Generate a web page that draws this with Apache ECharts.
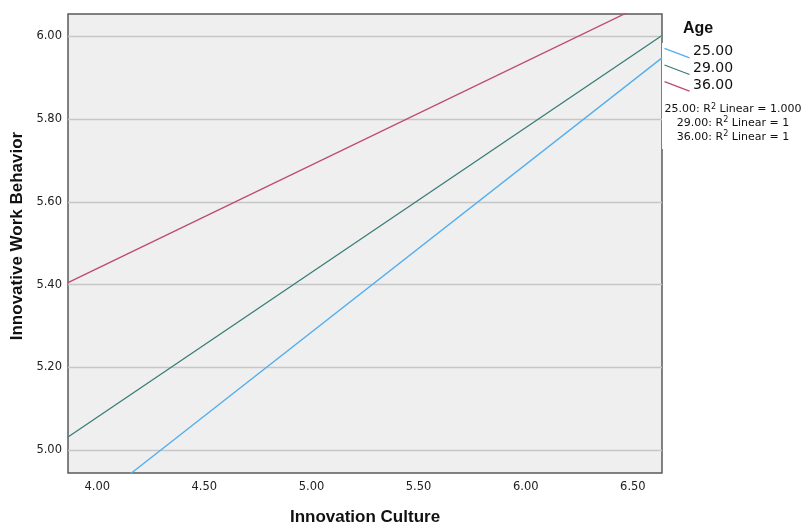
<!DOCTYPE html>
<html>
<head>
<meta charset="utf-8">
<script src="https://cdn.jsdelivr.net/npm/echarts@6/dist/echarts.min.js"></script>
<style>
html,body{margin:0;padding:0;background:#fff;}
#c{width:804px;height:523px;}
</style>
</head>
<body>
<div id="c"></div>
<script>
// Data (fit lines, estimated at the plot edges)
const xEnds = [3.8636, 6.636];
const age25 = [4.825, 5.948];
const age29 = [5.032, 6.002];
const age36 = [5.405, 6.098];
const ages = ['25.00', '29.00', '36.00'];
const r2Values = ['1.000', '1', '1'];
const xTicks = [4.0, 4.5, 5.0, 5.5, 6.0, 6.5];
const yTicks = [5.0, 5.2, 5.4, 5.6, 5.8, 6.0];
const colors = ['#52aeee', '#3a7d75', '#bd4a70'];

const seriesVals = [age25, age29, age36];

const chart = echarts.init(document.getElementById('c'), null, {renderer: 'canvas'});

const legendGraphics = [
  {type: 'rect', left: 662, top: 43, shape: {width: 142, height: 106}, style: {fill: '#fff'}, z: 100},
  {type: 'text', left: 683, top: 21, style: {text: 'Age', font: 'bold 16px "Liberation Sans", Arial, sans-serif', fill: '#111'}, z: 101},
  {type: 'text', x: 17, y: 236, rotation: Math.PI / 2, z: 101,
   style: {text: 'Innovative Work Behavior', align: 'center', verticalAlign: 'middle', font: 'bold 17px "Liberation Sans", Arial, sans-serif', fill: '#111'}}
];
ages.forEach((a, i) => {
  const y0 = 48.3 + i * 16.7;
  legendGraphics.push({type: 'line', shape: {x1: 664.5, y1: y0, x2: 689.5, y2: y0 + 9.5}, style: {stroke: colors[i], lineWidth: 1.3}, z: 101});
  legendGraphics.push({type: 'text', left: 693, top: y0 - 3.5, style: {text: a, font: '14px "DejaVu Sans", sans-serif', fill: '#111'}, z: 101});
});
r2Values.forEach((r, i) => {
  legendGraphics.push({
    type: 'text', x: 733, y: 109.5 + i * 13.7, z: 101,
    style: {
      text: '{a|' + ages[i] + ': R}{s|2}{a| Linear = ' + r + '}',
      align: 'center', verticalAlign: 'middle',
      rich: {
        a: {font: '11px "DejaVu Sans", sans-serif', fill: '#111'},
        s: {font: '8px "DejaVu Sans", sans-serif', fill: '#111', verticalAlign: 'top', padding: [0, 0, 6, 0]}
      }
    }
  });
});

chart.setOption({
  animation: false,
  backgroundColor: '#fff',
  grid: {left: 68, right: 142, top: 14, bottom: 50, outerBoundsMode: 'none', containLabel: false, show: true, backgroundColor: '#efefef', borderColor: '#5a5a5a', borderWidth: 1.5},
  xAxis: {
    type: 'value', min: xEnds[0], max: xEnds[1],
    name: 'Innovation Culture', nameLocation: 'middle', nameGap: 36,
    nameTextStyle: {fontFamily: '"Liberation Sans", Arial, sans-serif', fontWeight: 'bold', fontSize: 17, color: '#111'},
    axisLine: {show: false},
    axisTick: {show: false, customValues: xTicks},
    axisLabel: {customValues: xTicks, formatter: v => v.toFixed(2), fontFamily: '"DejaVu Sans", sans-serif', fontSize: 11.5, color: '#222', margin: 8},
    splitLine: {show: false}
  },
  yAxis: {
    type: 'value', min: 4.945, max: 6.054,
    axisLine: {show: false},
    axisTick: {show: false, customValues: yTicks},
    axisLabel: {customValues: yTicks, formatter: v => v.toFixed(2), fontFamily: '"DejaVu Sans", sans-serif', fontSize: 11.5, color: '#222', margin: 6},
    splitLine: {show: true, lineStyle: {color: '#c6c6c6', width: 1.3}}
  },
  series: seriesVals.map((vals, i) => ({
    type: 'line', name: ages[i], clip: true, showSymbol: false, symbol: 'none',
    lineStyle: {color: colors[i], width: 1.3},
    data: xEnds.map((x, j) => [x, vals[j]])
  })),
  graphic: legendGraphics
});
</script>
</body>
</html>
